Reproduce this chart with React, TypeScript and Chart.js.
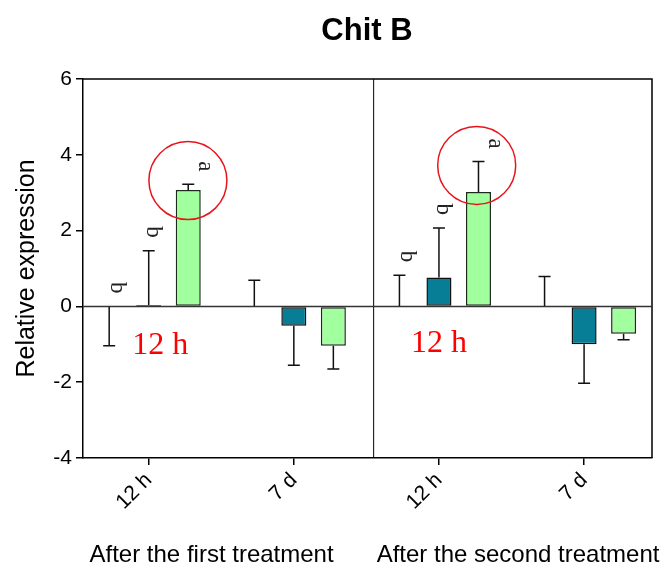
import React, { useEffect, useRef } from 'react';
import { Chart, registerables } from 'chart.js';

Chart.register(...registerables);

// ---- data ----
const categories = ['12 h', '7 d', '12 h', '7 d'];
const groupLabels = ['After the first treatment', 'After the second treatment'];
const groupCenters = [0.433, 2.545]; // x-axis units
const dividerAt = 1.55; // x-axis units

const controlValues = [-0.01, 0.01, 0.01, 0.01];
const controlErrors = [1.03, 0.68, 0.81, 0.78];
const controlLetters = ['b', '', 'b', ''];

const tealValues = [0.04, -0.51, 0.76, -1.0];
const tealErrors = [1.43, 1.04, 1.31, 1.03];
const tealLetters = ['b', '', 'b', ''];

const greenValues = [3.07, -1.04, 3.02, -0.72];
const greenErrors = [0.15, 0.61, 0.8, 0.16];
const greenLetters = ['a', '', 'a', ''];

const yMin = -4;
const yMax = 6;
const yStep = 2;

const timeNotes = [
  { text: '12 h', x: 0.08, y: -1.25 },
  { text: '12 h', x: 2.0, y: -1.19 },
];
const circles = [
  { x: 0.27, y: 3.32 },
  { x: 2.26, y: 3.72 },
];

const SANS = "'Liberation Sans', Arial, sans-serif";
const SERIF = "'Liberation Serif', 'Times New Roman', serif";

const overlay = {
  id: 'overlay',
  beforeDatasetsDraw(chart: any) {
    const { ctx, chartArea: a, scales } = chart;
    const x = scales.x;
    const y = scales.y;
    ctx.save();
    ctx.strokeStyle = '#000';
    ctx.lineWidth = 1.5;
    ctx.beginPath();
    ctx.moveTo(a.left, a.top);
    ctx.lineTo(a.right, a.top);
    ctx.lineTo(a.right, a.bottom);
    ctx.stroke();
    const dx = x.getPixelForValue(dividerAt);
    ctx.lineWidth = 1;
    ctx.beginPath();
    ctx.moveTo(dx, a.top);
    ctx.lineTo(dx, a.bottom);
    ctx.stroke();
    const zy = y.getPixelForValue(0);
    ctx.strokeStyle = '#333';
    ctx.lineWidth = 1.5;
    ctx.beginPath();
    ctx.moveTo(a.left, zy);
    ctx.lineTo(a.right, zy);
    ctx.stroke();
    ctx.restore();
  },
  afterDatasetsDraw(chart: any) {
    const { ctx, scales } = chart;
    const x = scales.x;
    const y = scales.y;
    ctx.save();
    chart.data.datasets.forEach((ds: any, di: number) => {
      const meta = chart.getDatasetMeta(di);
      ds.data.forEach((pt: any, i: number) => {
        const el = meta.data[i];
        const v = pt.y;
        const err = ds.errors[i];
        const dir = v >= 0 ? 1 : -1;
        const p0 = y.getPixelForValue(v);
        const p1 = y.getPixelForValue(v + dir * err);
        ctx.strokeStyle = '#111';
        ctx.lineWidth = 1.5;
        ctx.beginPath();
        ctx.moveTo(el.x, p0);
        ctx.lineTo(el.x, p1);
        ctx.moveTo(el.x - 6, p1);
        ctx.lineTo(el.x + 6, p1);
        ctx.stroke();
        const letter = ds.letters[i];
        if (letter) {
          const topVal = dir > 0 ? v + err : 0;
          const ty = y.getPixelForValue(topVal) - 13;
          ctx.save();
          ctx.translate(el.x + ds.letterShift, ty);
          ctx.rotate(Math.PI / 2);
          ctx.fillStyle = '#222';
          ctx.font = `23px ${SERIF}`;
          ctx.textAlign = 'right';
          ctx.textBaseline = 'alphabetic';
          ctx.fillText(letter, 0, 0);
          ctx.restore();
        }
      });
    });
    // circles
    ctx.strokeStyle = '#E8141B';
    ctx.lineWidth = 1.5;
    circles.forEach((c) => {
      ctx.beginPath();
      ctx.arc(x.getPixelForValue(c.x), y.getPixelForValue(c.y), 39, 0, Math.PI * 2);
      ctx.stroke();
    });
    // time notes
    ctx.fillStyle = '#FF0000';
    ctx.font = `32px ${SERIF}`;
    ctx.textAlign = 'center';
    ctx.textBaseline = 'alphabetic';
    timeNotes.forEach((n) => {
      ctx.fillText(n.text, x.getPixelForValue(n.x), y.getPixelForValue(n.y));
    });
    // group labels
    ctx.fillStyle = '#000';
    ctx.font = `24px ${SANS}`;
    groupLabels.forEach((g, i) => {
      ctx.fillText(g, x.getPixelForValue(groupCenters[i]), 562);
    });
    // title
    ctx.font = `bold 31px ${SANS}`;
    ctx.fillText('Chit B', 367, 40);
    ctx.restore();
  },
};

export default function App() {
  const ref = useRef<HTMLCanvasElement | null>(null);
  useEffect(() => {
    if (!ref.current) return;
    const toPts = (vals: number[]) => vals.map((v, i) => ({ x: i, y: v }));
    const chart = new Chart(ref.current, {
      type: 'bar',
      data: {
        datasets: [
          {
            label: 'Control',
            data: toPts(controlValues),
            backgroundColor: 'rgba(0,0,0,0)',
            borderWidth: 0,
            errors: controlErrors,
            letters: controlLetters,
            letterShift: 1.5,
          } as any,
          {
            label: 'Treatment A',
            data: toPts(tealValues),
            backgroundColor: '#077E95',
            borderColor: '#111',
            borderWidth: 1.5,
            borderSkipped: false,
            errors: tealErrors,
            letters: tealLetters,
            letterShift: -1.5,
          } as any,
          {
            label: 'Treatment B',
            data: toPts(greenValues),
            backgroundColor: '#A2FF9E',
            borderColor: '#1c2a1c',
            borderWidth: 1.5,
            borderSkipped: false,
            errors: greenErrors,
            letters: greenLetters,
            letterShift: 11,
          } as any,
        ],
      },
      options: {
        animation: false,
        responsive: false,
        devicePixelRatio: 1,
        categoryPercentage: 0.817,
        barPercentage: 0.633,
        layout: { padding: { top: 79, right: 12, left: 0, bottom: 0 } },
        plugins: {
          legend: { display: false },
          title: { display: false },
          tooltip: { enabled: false },
        },
        scales: {
          x: {
            type: 'linear',
            offset: false,
            min: -0.4528,
            max: 3.468,
            afterBuildTicks: (s: any) => {
              s.ticks = categories.map((_, i) => ({ value: i }));
            },
            afterFit: (s: any) => {
              s.height = 109;
            },
            grid: {
              offset: false,
              drawOnChartArea: false,
              drawTicks: true,
              tickLength: 7,
              color: '#000',
              lineWidth: 1.5,
            },
            border: { display: true, color: '#000', width: 1.5 },
            ticks: {
              color: '#000',
              font: { family: SANS, size: 21 },
              minRotation: 45,
              maxRotation: 45,
              padding: 3,
              autoSkip: false,
              callback: (_v: any, i: number) => categories[i],
            },
          },
          y: {
            min: yMin,
            max: yMax,
            afterFit: (s: any) => {
              s.width = 83;
            },
            grid: {
              drawOnChartArea: false,
              drawTicks: true,
              tickLength: 7,
              color: '#000',
              lineWidth: 1.5,
            },
            border: { display: true, color: '#000', width: 1.5 },
            ticks: {
              stepSize: yStep,
              color: '#000',
              font: { family: SANS, size: 21 },
              padding: 4,
            },
            title: {
              display: true,
              text: 'Relative expression',
              color: '#000',
              font: { family: SANS, size: 25 },
              padding: { top: 12, bottom: 0 },
            },
          },
        },
      } as any,
      plugins: [overlay],
    });
    return () => chart.destroy();
  }, []);
  return (
    <div style={{ position: 'fixed', left: 0, top: 0, width: 664, height: 567, background: '#fff' }}>
      <canvas ref={ref} width={664} height={567} style={{ display: 'block' }} />
    </div>
  );
}
